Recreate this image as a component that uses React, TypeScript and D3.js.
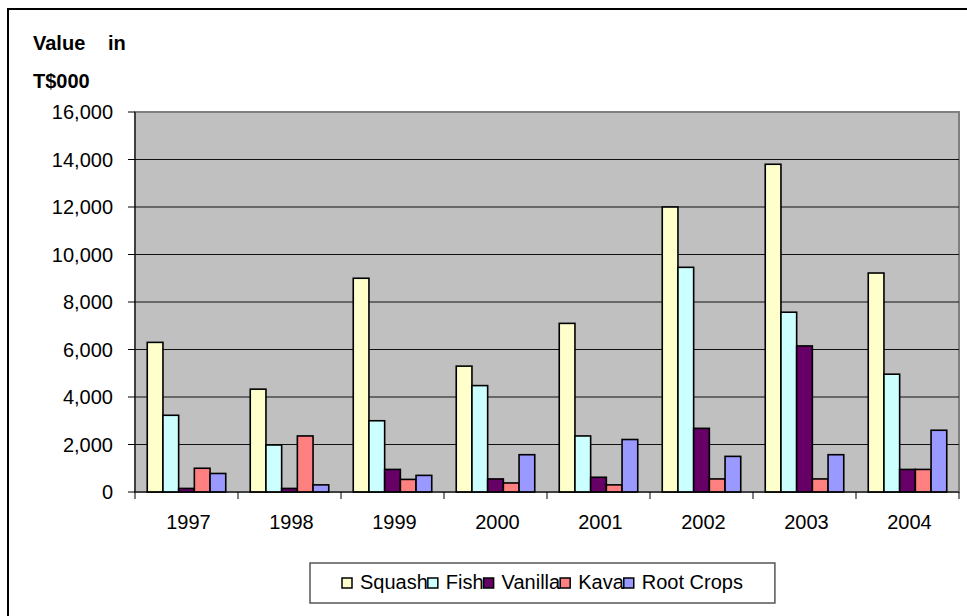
import React from "react";
import * as d3 from "d3";

const years = ["1997", "1998", "1999", "2000", "2001", "2002", "2003", "2004"];
const seriesNames = ["Squash", "Fish", "Vanilla", "Kava", "Root Crops"];
const squash = [6300, 4330, 9000, 5300, 7100, 12000, 13800, 9220];
const fish = [3230, 1980, 3000, 4480, 2360, 9460, 7570, 4960];
const vanilla = [150, 150, 950, 550, 620, 2680, 6150, 950];
const kava = [1000, 2360, 530, 380, 300, 550, 550, 950];
const rootCrops = [780, 300, 700, 1570, 2210, 1500, 1570, 2600];
const colors = ["#FFFFCC", "#CCFFFF", "#660066", "#FF8080", "#9999FF"];
const yTicks = [0, 2000, 4000, 6000, 8000, 10000, 12000, 14000, 16000];

const W = 967;
const H = 616;
const FONT = "'Liberation Sans', Arial, sans-serif";

function measure(text: string, font: string): number {
  const c = document.createElement("canvas");
  const ctx = c.getContext("2d");
  if (!ctx) return text.length * 10;
  ctx.font = font;
  return ctx.measureText(text).width;
}

export default function App() {
  const values = [squash, fish, vanilla, kava, rootCrops];
  const plot = { left: 135, right: 959, top: 112, bottom: 492 };
  const x0 = d3.scaleBand<string>().domain(years).range([plot.left, plot.right]).padding(0);
  const x1 = d3
    .scaleBand<string>()
    .domain(seriesNames)
    .range([0, x0.bandwidth()])
    .paddingInner(0)
    .paddingOuter(0.78);
  const y = d3.scaleLinear().domain([0, 16000]).range([plot.bottom, plot.top]);
  const fmt = d3.format(",");

  const legFont = `20px ${FONT}`;
  const sq = 10;
  const gap = 8;
  const widths = seriesNames.map((n) => sq + gap + measure(n, legFont));
  const total = d3.sum(widths);
  const legPad = 32;
  const legStart = 342;
  const offsets: number[] = [];
  let acc = legStart;
  widths.forEach((w) => {
    offsets.push(acc);
    acc += w;
  });

  return (
    <svg
      width={W}
      height={H}
      style={{ position: "absolute", left: 0, top: 0, background: "#fff" }}
      fontFamily={FONT}
    >
      <rect x={8} y={9} width={W + 20} height={H + 20} fill="#fff" stroke="#000" strokeWidth={2} />
      <text x={33} y={50} fontSize={20} fontWeight="bold">Value</text>
      <text x={108} y={50} fontSize={20} fontWeight="bold">in</text>
      <text x={33} y={88} fontSize={20} fontWeight="bold">T$000</text>

      <rect
        x={plot.left}
        y={plot.top}
        width={plot.right - plot.left}
        height={plot.bottom - plot.top}
        fill="#C0C0C0"
        stroke="#808080"
        strokeWidth={2}
      />
      {yTicks.map((t) => (
        <g key={t}>
          {t > 0 && t < 16000 && (
            <line x1={plot.left} x2={plot.right} y1={y(t)} y2={y(t)} stroke="#111" strokeWidth={1.2} />
          )}
          <line x1={plot.left - 7} x2={plot.left} y1={y(t)} y2={y(t)} stroke="#000" strokeWidth={1} />
          <text x={113} y={y(t)} dy="0.35em" textAnchor="end" fontSize={20}>
            {fmt(t)}
          </text>
        </g>
      ))}

      {years.map((yr, i) => (
        <g key={yr} transform={`translate(${x0(yr)},0)`}>
          {seriesNames.map((s, j) => (
            <rect
              key={s}
              x={x1(s)}
              y={y(values[j][i])}
              width={x1.bandwidth()}
              height={y(0) - y(values[j][i])}
              fill={colors[j]}
              stroke="#000"
              strokeWidth={1.6}
            />
          ))}
        </g>
      ))}

      <line x1={plot.left} x2={plot.left} y1={plot.top} y2={plot.bottom} stroke="#000" strokeWidth={1} />
      <line x1={plot.left} x2={plot.right} y1={plot.bottom} y2={plot.bottom} stroke="#000" strokeWidth={1} />
      {years.concat(["end"]).map((yr, i) => {
        const xx = plot.left + i * x0.step();
        return <line key={yr} x1={xx} x2={xx} y1={plot.bottom} y2={plot.bottom + 7} stroke="#000" strokeWidth={1} />;
      })}
      {years.map((yr) => (
        <text key={yr} x={(x0(yr) || 0) + x0.bandwidth() / 2 + 2} y={529} textAnchor="middle" fontSize={20}>
          {yr}
        </text>
      ))}

      <rect
        x={legStart - legPad}
        y={563}
        width={total + legPad * 2}
        height={40}
        fill="#fff"
        stroke="#555"
        strokeWidth={1.5}
      />
      {seriesNames.map((s, j) => (
        <g key={s} transform={`translate(${offsets[j]},0)`}>
          <rect x={0} y={578} width={sq} height={sq} fill={colors[j]} stroke="#000" strokeWidth={1.5} />
          <text x={sq + gap} y={589} fontSize={20}>
            {s}
          </text>
        </g>
      ))}
    </svg>
  );
}
